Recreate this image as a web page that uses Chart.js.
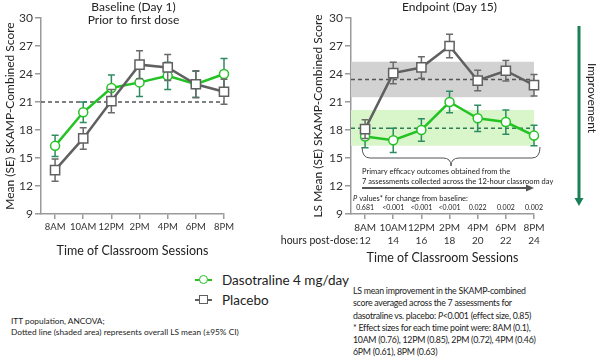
<!DOCTYPE html>
<html>
<head>
<meta charset="utf-8">
<script src="https://cdn.jsdelivr.net/npm/chart.js@4.4.0/dist/chart.umd.min.js"></script>
<style>
  body { margin: 0; width: 600px; height: 358px; position: relative; background: #fff; overflow: hidden; font-family: Lato, sans-serif; color: #222; }
  #leftBox { position: absolute; left: 0; top: 0; width: 290px; height: 265px; }
  #rightBox { position: absolute; left: 270px; top: 0; width: 330px; height: 265px; }
  .legendRow { position: absolute; left: 195px; height: 18px; font-size: 13.5px; line-height: 18px; }
  .legendRow .ln { position: absolute; left: 0; top: 8px; width: 17px; height: 2px; }
  .legendRow .mk { position: absolute; left: 4px; top: 4px; width: 7px; height: 7px; background: #fff; }
  .legendRow .txt { position: absolute; left: 27px; top: 0; white-space: nowrap; }
  #notes { position: absolute; left: 11px; top: 316px; font-size: 8.3px; line-height: 11px; white-space: nowrap; }
  #summary { position: absolute; left: 353px; top: 284px; font-size: 10px; line-height: 12.3px; white-space: nowrap; letter-spacing: -0.3px; transform: scaleX(0.88); transform-origin: left top; }
</style>
</head>
<body>
<div id="leftBox"><canvas id="baselineChart"></canvas></div>
<div id="rightBox"><canvas id="endpointChart"></canvas></div>

<div class="legendRow" style="top:271px">
  <div class="ln" style="background:#22c322"></div>
  <div class="mk" style="border:1.5px solid #22c322;border-radius:50%"></div>
  <div class="txt">Dasotraline 4 mg/day</div>
</div>
<div class="legendRow" style="top:291px">
  <div class="ln" style="background:#606060"></div>
  <div class="mk" style="border:1.5px solid #606060"></div>
  <div class="txt">Placebo</div>
</div>

<div id="notes">ITT population, ANCOVA;<br>Dotted line (shaded area) represents overall LS mean (±95% CI)</div>
<div id="summary">
  LS mean improvement in the SKAMP-combined<br>
  score averaged across the 7 assessments for<br>
  dasotraline vs. placebo: <i>P</i>&lt;0.001 (effect size, 0.85)<br>
  * Effect sizes for each time point were: 8AM (0.1),<br>
  10AM (0.76), 12PM (0.85), 2PM (0.72), 4PM (0.46)<br>
  6PM (0.61), 8PM (0.63)
</div>

<script>
// categories / tick labels
const timeLabels = ['8AM', '10AM', '12PM', '2PM', '4PM', '6PM', '8PM'];
const hoursPostDose = ['12', '14', '16', '18', '20', '22', '24'];
const pValues = ['0.681', '<0.001', '<0.001', '<0.001', '0.022', '0.002', '0.002'];
const yTicks = [9, 12, 15, 18, 21, 24, 27, 30];

// Baseline (Day 1) - mean and SE
const baseDaso = [16.3, 19.9, 22.5, 23.1, 23.8, 22.9, 24.0];
const baseDasoSE = [1.15, 1.1, 1.4, 1.5, 1.45, 1.4, 1.65];
const basePlacebo = [13.7, 17.1, 21.1, 25.0, 24.7, 22.9, 22.1];
const basePlaceboSE = [1.2, 1.15, 1.25, 1.5, 1.4, 1.45, 1.35];
const baseRefLine = 21;

// Endpoint (Day 15) - LS mean and SE
const endDaso = [17.3, 16.9, 18.0, 21.0, 19.25, 18.85, 17.4];
const endDasoSE = [1.2, 1.3, 1.2, 1.15, 1.4, 1.3, 1.1];
const endPlacebo = [18.1, 24.1, 24.7, 27.0, 23.3, 24.35, 22.8];
const endPlaceboSE = [1.0, 1.15, 1.15, 1.25, 1.1, 1.1, 1.15];

// overall LS mean (95% CI)
const dasoOverall = 18.2;
const dasoCI = [16.3, 20.15];
const placeboOverall = 23.4;
const placeboCI = [21.5, 25.3];

const FONT = 'Lato, sans-serif';
const GREEN = '#22c322';
const GREEN_ERR = '#2e8c62';
const GRAY = '#606060';
const GRAY_ERR = '#6a6a6a';

function seriesPoints(values) {
    return values.map((v, i) => ({ x: i, y: v }));
}
function flatLine(value) {
    return [{ x: -0.5, y: value }, { x: timeLabels.length - 1, y: value }];
}

// error bars drawn right before their own series, so markers sit on top
const errorBars = {
    id: 'errorBars',
    beforeDatasetDraw(chart, args) {
        const ds = chart.data.datasets[args.index];
        if (!ds.se) return;
        const xs = chart.scales.x, ys = chart.scales.y, ctx = chart.ctx;
        ctx.save();
        ctx.strokeStyle = ds.errColor;
        ctx.lineWidth = 1.5;
        ds.data.forEach((p, i) => {
            const px = xs.getPixelForValue(p.x);
            const top = ys.getPixelForValue(p.y + ds.se[i]);
            const bot = ys.getPixelForValue(p.y - ds.se[i]);
            ctx.beginPath();
            ctx.moveTo(px, top); ctx.lineTo(px, bot);
            ctx.moveTo(px - 3.5, top); ctx.lineTo(px + 3.5, top);
            ctx.moveTo(px - 3.5, bot); ctx.lineTo(px + 3.5, bot);
            ctx.stroke();
        });
        ctx.restore();
    }
};

function dasoDataset(values, se) {
    return {
        label: 'Dasotraline 4 mg/day', data: seriesPoints(values), se: se, errColor: GREEN_ERR,
        borderColor: GREEN, borderWidth: 2.5, pointStyle: 'circle', pointRadius: 4.5,
        pointBackgroundColor: '#fff', pointBorderColor: GREEN, pointBorderWidth: 1.5,
        tension: 0, order: 2, clip: false
    };
}
function placeboDataset(values, se) {
    return {
        label: 'Placebo', data: seriesPoints(values), se: se, errColor: GRAY_ERR,
        borderColor: GRAY, borderWidth: 2.5, pointStyle: 'rect', pointRadius: 6.5,
        pointBackgroundColor: '#fff', pointBorderColor: GRAY, pointBorderWidth: 1.5,
        tension: 0, order: 1, clip: false
    };
}
function dashedDataset(value, color) {
    return {
        data: flatLine(value), borderColor: color, borderWidth: 1.5, borderDash: [4, 3],
        pointRadius: 0, order: 3
    };
}

function makeScales(o) {
    return {
        x: {
            type: 'linear', min: -0.5, max: timeLabels.length - 1,
            afterBuildTicks: s => { s.ticks = timeLabels.map((_, i) => ({ value: i })); },
            afterFit: s => { s.height = o.xHeight; },
            grid: { drawOnChartArea: false, tickLength: 5, color: '#9a9a9a', lineWidth: 1.5 },
            border: { color: '#9a9a9a', width: 1.5 },
            ticks: {
                callback: v => o.xLabel(v), font: { family: FONT, size: o.xTickSize, lineHeight: o.xTickLH },
                color: '#333', padding: 2, maxRotation: 0, autoSkip: false
            },
            title: {
                display: true, text: 'Time of Classroom Sessions', color: '#222',
                font: { family: FONT, size: 12.5, lineHeight: 1.2 }, padding: { top: 0, bottom: o.xTitlePad }
            }
        },
        y: {
            min: 9, max: 30,
            afterBuildTicks: s => { s.ticks = yTicks.map(v => ({ value: v })); },
            afterFit: s => { s.width = o.yWidth; },
            grid: { drawOnChartArea: false, tickLength: 6, color: '#9a9a9a', lineWidth: 1.5 },
            border: { color: '#9a9a9a', width: 1.5 },
            ticks: { font: { family: FONT, size: 12 }, color: '#333', padding: 2 },
            title: {
                display: true, text: o.yTitle, color: '#222',
                font: { family: FONT, size: 12, lineHeight: 1.2 }, padding: { top: 3, bottom: 0 }
            }
        }
    };
}

// titles above the left panel
const baselineDecor = {
    id: 'baselineDecor',
    afterDraw(chart) {
        const ctx = chart.ctx, a = chart.chartArea;
        const cx = (a.left + a.right) / 2 + 1;
        ctx.save();
        ctx.fillStyle = '#222';
        ctx.textAlign = 'center';
        ctx.textBaseline = 'middle';
        ctx.font = '12px ' + FONT;
        ctx.fillText('Baseline (Day 1)', cx, 7);
        ctx.fillText('Prior to first dose', cx, 20);
        ctx.restore();
    }
};

// brace, notes, p values, hours row and improvement arrow of the right panel
const endpointDecor = {
    id: 'endpointDecor',
    afterDraw(chart) {
        const ctx = chart.ctx, a = chart.chartArea;
        const xs = chart.scales.x, ys = chart.scales.y;
        const first = xs.getPixelForValue(0), last = xs.getPixelForValue(timeLabels.length - 1);
        ctx.save();
        ctx.fillStyle = '#222';
        ctx.textBaseline = 'middle';

        // title
        ctx.textAlign = 'center';
        ctx.font = '12px ' + FONT;
        ctx.fillText('Endpoint (Day 15)', (first + last) / 2, 7);

        // brace
        const bl = first - 3, br = last + 6, bm = (bl + br) / 2;
        const yTop = ys.getPixelForValue(15) - 11, yMid = yTop + 11, yTip = yTop + 19, r = 8;
        ctx.strokeStyle = '#555';
        ctx.lineWidth = 1;
        ctx.beginPath();
        ctx.moveTo(bl, yTop);
        ctx.quadraticCurveTo(bl, yMid, bl + r, yMid);
        ctx.lineTo(bm - r, yMid);
        ctx.quadraticCurveTo(bm, yMid, bm, yTip);
        ctx.quadraticCurveTo(bm, yMid, bm + r, yMid);
        ctx.lineTo(br - r, yMid);
        ctx.quadraticCurveTo(br, yMid, br, yTop);
        ctx.stroke();

        // note under the brace
        ctx.textAlign = 'left';
        ctx.font = '7.5px ' + FONT;
        ctx.fillText('Primary efficacy outcomes obtained from the', bl, yTip + 6);
        ctx.fillText('7 assessments collected across the 12-hour classroom day', bl, yTip + 16);

        // arrow
        const ay = yTip + 22;
        ctx.strokeStyle = '#555';
        ctx.fillStyle = '#555';
        ctx.lineWidth = 2;
        ctx.beginPath();
        ctx.moveTo(bl, ay);
        ctx.lineTo(last - 6, ay);
        ctx.stroke();
        ctx.beginPath();
        ctx.moveTo(last, ay);
        ctx.lineTo(last - 8, ay - 3.5);
        ctx.lineTo(last - 8, ay + 3.5);
        ctx.closePath();
        ctx.fill();

        // p values
        ctx.fillStyle = '#222';
        const py = ys.getPixelForValue(9) - 15;
        ctx.font = 'italic 7.5px ' + FONT;
        ctx.fillText('P', a.left + 2, py);
        const pw = ctx.measureText('P').width;
        ctx.font = '7.5px ' + FONT;
        ctx.fillText(' values* for change from baseline:', a.left + 2 + pw, py);
        ctx.textAlign = 'center';
        ctx.font = '7px ' + FONT;
        pValues.forEach((p, i) => ctx.fillText(p, xs.getPixelForValue(i), py + 9));

        // hours post-dose caption
        ctx.textAlign = 'right';
        ctx.font = '10.5px ' + FONT;
        ctx.fillText('hours post-dose:', first - 7, a.bottom + 27);

        // improvement arrow
        const gx = a.right + 45;
        ctx.strokeStyle = '#1b7f5a';
        ctx.fillStyle = '#1b7f5a';
        ctx.lineWidth = 3;
        ctx.beginPath();
        ctx.moveTo(gx, a.top + 8);
        ctx.lineTo(gx, a.bottom - 14);
        ctx.stroke();
        ctx.beginPath();
        ctx.moveTo(gx - 4.5, a.bottom - 16);
        ctx.lineTo(gx + 4.5, a.bottom - 16);
        ctx.lineTo(gx, a.bottom - 8);
        ctx.closePath();
        ctx.fill();

        ctx.fillStyle = '#222';
        ctx.translate(gx + 13, a.top + 80);
        ctx.rotate(Math.PI / 2);
        ctx.textAlign = 'center';
        ctx.font = '12px ' + FONT;
        ctx.fillText('Improvement', 0, 0);
        ctx.restore();
    }
};

new Chart(document.getElementById('baselineChart'), {
    type: 'line',
    data: {
        datasets: [
            dasoDataset(baseDaso, baseDasoSE),
            placeboDataset(basePlacebo, basePlaceboSE),
            dashedDataset(baseRefLine, '#555')
        ]
    },
    options: {
        responsive: true, maintainAspectRatio: false, animation: false,
        layout: { padding: { left: 0, right: 66, top: 18, bottom: 0 } },
        scales: makeScales({
            xHeight: 51, yWidth: 41, xTickSize: 9.5, xTickLH: 1.2, xTitlePad: 7,
            xLabel: v => timeLabels[v], yTitle: 'Mean (SE) SKAMP-Combined Score'
        }),
        plugins: { legend: { display: false }, tooltip: { enabled: false } }
    },
    plugins: [errorBars, baselineDecor]
});

new Chart(document.getElementById('endpointChart'), {
    type: 'line',
    data: {
        datasets: [
            dasoDataset(endDaso, endDasoSE),
            placeboDataset(endPlacebo, endPlaceboSE),
            dashedDataset(placeboOverall, '#555'),
            dashedDataset(dasoOverall, '#2e7d55'),
            { data: flatLine(placeboCI[1]), fill: '+1', backgroundColor: '#d2d2d2', borderWidth: 0, pointRadius: 0, order: 4 },
            { data: flatLine(placeboCI[0]), borderWidth: 0, pointRadius: 0, order: 5 },
            { data: flatLine(dasoCI[1]), fill: '+1', backgroundColor: '#d8f6ca', borderWidth: 0, pointRadius: 0, order: 4 },
            { data: flatLine(dasoCI[0]), borderWidth: 0, pointRadius: 0, order: 5 }
        ]
    },
    options: {
        responsive: true, maintainAspectRatio: false, animation: false,
        layout: { padding: { left: 38, right: 66, top: 18, bottom: 0 } },
        scales: makeScales({
            xHeight: 51, yWidth: 43, xTickSize: 10, xTickLH: 1.33, xTitlePad: 0,
            xLabel: v => [timeLabels[v], hoursPostDose[v]], yTitle: 'LS Mean (SE) SKAMP-Combined Score'
        }),
        plugins: { legend: { display: false }, tooltip: { enabled: false } }
    },
    plugins: [errorBars, endpointDecor]
});
</script>
</body>
</html>
